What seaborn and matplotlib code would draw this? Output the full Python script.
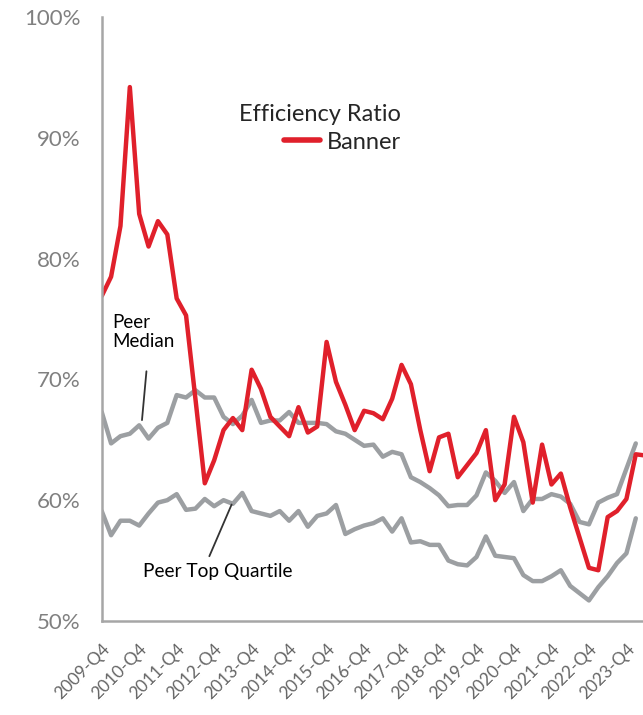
import pandas as pd
import matplotlib
matplotlib.use("Agg")
import matplotlib.pyplot as plt
import seaborn as sns
from matplotlib.lines import Line2D
from matplotlib.ticker import FuncFormatter

# quarterly efficiency ratio (%), starting 2009-Q4
banner = [76.9, 78.5, 82.7, 94.2, 83.7, 81.0, 83.1, 82.0, 76.7, 75.3,
          68.4, 61.4, 63.3, 65.8, 66.8, 65.8, 70.8, 69.2, 66.9, 66.1,
          65.3, 67.7, 65.6, 66.1, 73.1, 69.8, 67.9, 65.8, 67.4, 67.2,
          66.7, 68.4, 71.2, 69.6, 65.8, 62.4, 65.2, 65.5, 61.9, 62.9,
          63.9, 65.8, 60.0, 61.3, 66.9, 64.8, 59.8, 64.6, 61.3, 62.2,
          59.4, 56.9, 54.4, 54.2, 58.6, 59.1, 60.1, 63.8, 63.7]
peer_median = [67.3, 64.7, 65.3, 65.5, 66.2, 65.1, 66.0, 66.4, 68.7, 68.5,
               69.1, 68.5, 68.5, 66.9, 66.3, 67.0, 68.3, 66.4, 66.6, 66.6,
               67.3, 66.4, 66.4, 66.4, 66.3, 65.7, 65.5, 65.0, 64.5, 64.6,
               63.6, 64.0, 63.8, 61.9, 61.5, 61.0, 60.4, 59.5, 59.6, 59.6,
               60.4, 62.3, 61.6, 60.6, 61.5, 59.1, 60.1, 60.1, 60.5, 60.3,
               59.7, 58.2, 58.0, 59.8, 60.2, 60.5, 62.6, 64.7]
peer_top_quartile = [59.1, 57.1, 58.3, 58.3, 57.9, 58.9, 59.8, 60.0, 60.5, 59.2,
                     59.3, 60.1, 59.5, 60.0, 59.7, 60.6, 59.1, 58.9, 58.7, 59.1,
                     58.3, 59.1, 57.8, 58.7, 58.9, 59.6, 57.2, 57.6, 57.9, 58.1,
                     58.5, 57.4, 58.5, 56.5, 56.6, 56.3, 56.3, 55.0, 54.7, 54.6,
                     55.3, 57.0, 55.4, 55.3, 55.2, 53.8, 53.3, 53.3, 53.7, 54.2,
                     52.9, 52.3, 51.7, 52.8, 53.7, 54.8, 55.6, 58.5]
tick_labels = ["2009-Q4", "2010-Q4", "2011-Q4", "2012-Q4", "2013-Q4",
               "2014-Q4", "2015-Q4", "2016-Q4", "2017-Q4", "2018-Q4",
               "2019-Q4", "2020-Q4", "2021-Q4", "2022-Q4", "2023-Q4"]

frames = []
for name, vals in [("Peer Median", peer_median),
                   ("Peer Top Quartile", peer_top_quartile),
                   ("Banner", banner)]:
    frames.append(pd.DataFrame({"q": range(len(vals)), "ratio": vals, "series": name}))
df = pd.concat(frames, ignore_index=True)

sns.set_style("white")
plt.rcParams["font.family"] = ["Lato", "DejaVu Sans"]

RED = "#E0202B"
GRAY = "#9C9FA2"
AXC = "#A6A6A6"

fig = plt.figure(figsize=(6.43, 7.15), dpi=100)
ax = fig.add_axes([0.1582, 0.1315, 0.8418, 0.8447])

sns.lineplot(data=df, x="q", y="ratio", hue="series",
             palette={"Peer Median": GRAY, "Peer Top Quartile": GRAY, "Banner": RED},
             linewidth=3.2, legend=False, ax=ax)

ax.set_xlim(0, 57.77)
ax.set_ylim(50, 100)
ax.set_xticks(range(0, 4 * len(tick_labels), 4))
ax.set_xticklabels(tick_labels, rotation=45, ha="right", rotation_mode="anchor",
                   fontsize=12.5, color="#666666")
ax.set_yticks([50, 60, 70, 80, 90, 100])
ax.yaxis.set_major_formatter(FuncFormatter(lambda v, p: f"{v:.0f}%"))
ax.tick_params(axis="y", labelsize=16, labelcolor="#808080", length=9, width=1.5, color=AXC, pad=6)
ax.tick_params(axis="x", length=10, width=1.5, color=AXC, pad=4)
ax.set_xlabel("")
ax.set_ylabel("")
for s in ["top", "right"]:
    ax.spines[s].set_visible(False)
for s in ["left", "bottom"]:
    ax.spines[s].set_color(AXC)
    ax.spines[s].set_linewidth(1.8)

leg = ax.legend(handles=[Line2D([0], [0], color=RED, lw=4)], labels=["Banner"],
                title="Efficiency Ratio", frameon=False, loc="center",
                bbox_to_anchor=(0.403, 0.816), fontsize=17, title_fontsize=17,
                handlelength=1.5, handletextpad=0.3, borderpad=0, labelspacing=0,
                alignment="right")
leg._legend_box.sep = 5

ax.text(1.1, 75.4, "Peer\nMedian", fontsize=13.5, color="black", ha="left", va="top",
        linespacing=1.15)
ax.annotate("", xy=(4.27, 66.4), xytext=(4.8, 70.9),
            arrowprops=dict(arrowstyle="-", color="#333333", lw=1.3))
ax.text(4.4, 54.8, "Peer Top Quartile", fontsize=13.8, color="black", ha="left", va="top")
ax.annotate("", xy=(13.98, 59.85), xytext=(11.37, 55.15),
            arrowprops=dict(arrowstyle="-", color="#333333", lw=1.3))

fig.savefig("out.png", dpi=100)
